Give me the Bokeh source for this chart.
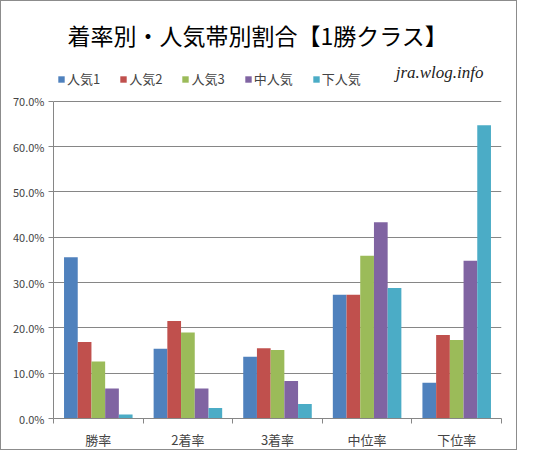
from bokeh.embed import file_html
from bokeh.models import FixedTicker, Label, Legend, LegendItem, NumeralTickFormatter
from bokeh.plotting import figure
from bokeh.resources import INLINE

categories = ["勝率", "2着率", "3着率", "中位率", "下位率"]
series = ["人気1", "人気2", "人気3", "中人気", "下人気"]
colors = ["#4F81BD", "#C0504D", "#9BBB59", "#8064A2", "#4BACC6"]

ninki1 = [0.356, 0.154, 0.136, 0.273, 0.079]
ninki2 = [0.169, 0.215, 0.155, 0.273, 0.184]
ninki3 = [0.126, 0.190, 0.151, 0.359, 0.173]
naka_ninki = [0.066, 0.066, 0.083, 0.433, 0.348]
shita_ninki = [0.009, 0.023, 0.032, 0.288, 0.647]
values = [ninki1, ninki2, ninki3, naka_ninki, shita_ninki]
y_ticks = [0.0, 0.1, 0.2, 0.3, 0.4, 0.5, 0.6, 0.7]

FONT = "Noto Sans CJK JP"
GRAY = "#868686"

W, H = 517, 450
BORDER_B = 32
frame_h = H - BORDER_B
plot_h = 318  # pixels between 0% and 70%; the rest of the frame holds title and legend
y_top = y_ticks[-1] * frame_h / plot_h

p = figure(width=W, height=H, x_range=(0, len(categories)), y_range=(0, y_top),
           output_backend="svg", toolbar_location=None,
           min_border_left=52, min_border_right=17, min_border_bottom=BORDER_B, min_border_top=0)
p.styles = {"border": "1px solid #8c8c8c"}
p.outline_line_color = None

# bars, 5 per group, touching each other
centers = [i + 0.5 for i in range(len(categories))]
bar_w = 0.153
items = []
for j, (name, vals, col) in enumerate(zip(series, values, colors)):
    xs = [c + (j - 2) * bar_w for c in centers]
    r = p.vbar(x=xs, top=vals, width=bar_w, fill_color=col, line_color=None)
    items.append(LegendItem(label=name, renderers=[r]))

legend = Legend(items=items, orientation="horizontal", location=(4, frame_h - 88),
                glyph_width=8, glyph_height=8, label_standoff=2, spacing=19,
                label_text_font=FONT, label_text_font_size="13px", label_height=17,
                padding=4, margin=0, border_line_color=None, background_fill_alpha=0)
p.add_layout(legend)

p.add_layout(Label(x=14, y=frame_h - 34, x_units="screen", y_units="screen",
                   text="着率別・人気帯別割合【1勝クラス】", text_baseline="middle",
                   text_font=FONT, text_font_size="23px", text_color="#000000"))

p.add_layout(Label(x=430, y=frame_h - 72, x_units="screen", y_units="screen",
                   text="jra.wlog.info", text_align="right", text_baseline="middle",
                   text_font="Liberation Serif", text_font_style="italic",
                   text_font_size="17px", text_color="#222222"))

# x axis: labels in the middle of each group, ticks on the group borders
p.xaxis.ticker = FixedTicker(ticks=centers, minor_ticks=list(range(len(categories) + 1)))
p.xaxis.major_label_overrides = {c: lab for c, lab in zip(centers, categories)}
p.xaxis.major_tick_out = 0
p.xaxis.major_tick_in = 0
p.xaxis.minor_tick_out = 5
p.xaxis.minor_tick_in = 0
p.xaxis.minor_tick_line_color = GRAY
p.xaxis.axis_line_color = GRAY
p.xaxis.major_label_text_font = FONT
p.xaxis.major_label_text_font_size = "13px"
p.xaxis.major_label_standoff = 6

p.yaxis.ticker = FixedTicker(ticks=y_ticks)
p.yaxis.bounds = (y_ticks[0], y_ticks[-1])
p.yaxis.formatter = NumeralTickFormatter(format="0.0%")
p.yaxis.axis_line_color = GRAY
p.yaxis.major_tick_line_color = GRAY
p.yaxis.major_tick_out = 5
p.yaxis.major_tick_in = 0
p.yaxis.minor_tick_line_color = None
p.yaxis.major_label_text_font = FONT
p.yaxis.major_label_text_font_size = "11px"
p.yaxis.major_label_standoff = 4

p.xgrid.grid_line_color = None
p.ygrid.grid_line_color = GRAY

open("out.html", "w").write(file_html(p, INLINE))
